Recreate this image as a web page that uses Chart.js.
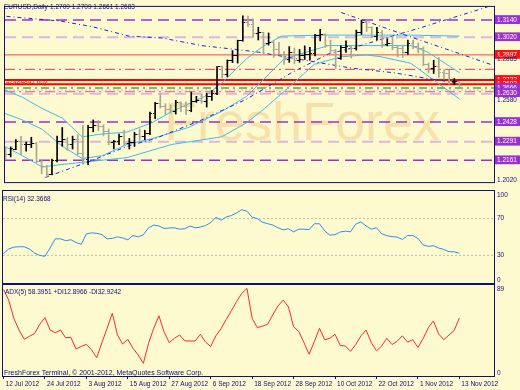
<!DOCTYPE html>
<html><head><meta charset="utf-8">
<script src="https://cdn.jsdelivr.net/npm/chart.js@4.4.1/dist/chart.umd.min.js"></script>
<style>
html,body{margin:0;padding:0;background:#fdfad0;width:520px;height:390px;overflow:hidden}
canvas{position:absolute;left:0;display:block}
</style></head><body>
<canvas id="cMain" width="520" height="189" style="top:0px"></canvas>
<canvas id="cRsi" width="520" height="95" style="top:189px"></canvas>
<canvas id="cAdx" width="520" height="106" style="top:284px"></canvas>
<script>
// ---------------- DATA ----------------
const tickLabels = ['12 Jul 2012','24 Jul 2012','3 Aug 2012','15 Aug 2012','27 Aug 2012','6 Sep 2012','18 Sep 2012','28 Sep 2012','10 Oct 2012','22 Oct 2012','1 Nov 2012','13 Nov 2012'];
const tickBars = [0,8,16,24,32,40,48,56,64,72,80,88];

const open = [1.2245,1.2200,1.2240,1.2290,1.2268,1.2272,1.2280,1.2150,1.2118,1.2064,
1.2162,1.2290,1.2307,1.2270,1.2305,1.2212,1.2166,1.2388,1.2401,1.2400,
1.2365,1.2285,1.2289,1.2330,1.2279,1.2285,1.2341,1.2330,1.2347,1.2488,
1.2561,1.2534,1.2513,1.2500,1.2562,1.2535,1.2510,1.2575,1.2582,1.2575,
1.2605,1.2628,1.2814,1.2760,1.2855,1.2895,1.2997,1.3124,1.3110,1.3047,
1.3050,1.2976,1.2981,1.2934,1.2902,1.2866,1.2916,1.2857,1.2895,1.2903,
1.2904,1.3035,1.3037,1.2966,1.2930,1.2874,1.2950,1.2953,1.2945,1.3052,
1.3122,1.3087,1.3023,1.3054,1.2972,1.2976,1.2947,1.2940,1.2911,1.2977,
1.2958,1.2942,1.2832,1.2800,1.2813,1.2775,1.2770,1.2710,1.2709];
const high = [1.2252,1.2255,1.2305,1.2328,1.2288,1.2322,1.2287,1.2165,1.2125,1.2170,
1.2330,1.2390,1.2320,1.2330,1.2340,1.2405,1.2405,1.2443,1.2440,1.2410,
1.2380,1.2300,1.2345,1.2372,1.2314,1.2357,1.2380,1.2370,1.2497,1.2565,
1.2624,1.2557,1.2550,1.2580,1.2570,1.2570,1.2637,1.2608,1.2620,1.2630,
1.2650,1.2815,1.2820,1.2862,1.2927,1.3000,1.3170,1.3168,1.3148,1.3090,
1.3055,1.3050,1.2990,1.2985,1.2920,1.2955,1.2945,1.2935,1.2960,1.2950,
1.3040,1.3075,1.3045,1.3000,1.2935,1.2960,1.2995,1.2960,1.3070,1.3140,
1.3135,1.3093,1.3090,1.3066,1.3010,1.3022,1.2960,1.2960,1.3000,1.3000,
1.2980,1.2952,1.2840,1.2860,1.2878,1.2792,1.2790,1.2732,1.2709];
const low = [1.2167,1.2185,1.2235,1.2200,1.2225,1.2250,1.2145,1.2067,1.2042,1.2060,
1.2150,1.2260,1.2230,1.2240,1.2200,1.2134,1.2130,1.2360,1.2367,1.2331,
1.2270,1.2240,1.2270,1.2265,1.2240,1.2258,1.2300,1.2305,1.2340,1.2452,
1.2525,1.2482,1.2490,1.2484,1.2500,1.2480,1.2500,1.2565,1.2560,1.2533,
1.2580,1.2620,1.2738,1.2745,1.2843,1.2840,1.2992,1.3095,1.3025,1.3001,
1.2900,1.2966,1.2880,1.2900,1.2830,1.2845,1.2835,1.2845,1.2865,1.2860,
1.2890,1.2995,1.2950,1.2907,1.2803,1.2865,1.2915,1.2876,1.2930,1.3040,
1.3060,1.3018,1.3000,1.2950,1.2960,1.2933,1.2883,1.2880,1.2900,1.2940,
1.2910,1.2820,1.2772,1.2767,1.2740,1.2727,1.2692,1.2690,1.2661];
const close = [1.2200,1.2245,1.2290,1.2268,1.2272,1.2280,1.2155,1.2118,1.2064,1.2162,
1.2290,1.2307,1.2270,1.2305,1.2212,1.2166,1.2388,1.2401,1.2400,1.2365,
1.2285,1.2289,1.2330,1.2279,1.2285,1.2341,1.2330,1.2347,1.2488,1.2561,
1.2534,1.2513,1.2500,1.2562,1.2535,1.2510,1.2575,1.2582,1.2575,1.2605,
1.2628,1.2814,1.2760,1.2855,1.2895,1.2997,1.3124,1.3110,1.3047,1.3050,
1.2976,1.2981,1.2934,1.2902,1.2866,1.2916,1.2857,1.2895,1.2903,1.2904,
1.3035,1.3037,1.2966,1.2930,1.2874,1.2950,1.2953,1.2945,1.3052,1.3122,
1.3087,1.3023,1.3054,1.2972,1.2976,1.2947,1.2940,1.2911,1.2977,1.2958,
1.2942,1.2832,1.2800,1.2813,1.2775,1.2770,1.2710,1.2712,1.2683];

const rsi = [32,37,39,39.4,39.4,37,32.5,30,29,38,
48,48,46,47,44,42,53.4,54.5,54,52.5,
48,48.5,50.2,49,47,51.6,50.2,52.5,60,63,
62,59.3,59.8,60,58.5,59,61.9,60,60.8,62.5,
65.5,71.4,68.2,71.8,73.3,76.2,79.7,78,71.5,70,
66,64.5,63,60,57.8,59,55.6,58.5,58.5,58,
64.4,64.4,56.6,52,52.5,55.5,56.3,55.6,64,66.4,
62,58.5,60,53.6,51.5,50.3,50,47.2,51.6,51.6,
48.5,41.5,39.8,40.5,38,36.5,34,33.9,32.4];
const rsiLevels = [70,30];
const rsiAxis = [100,70,30,0];

const adx = [88,77,58,46,36.4,39.5,42.5,52,58.8,46,
43.2,46,38,38.5,26.4,29,31.2,25.4,17.4,33,
47.8,63.3,40.9,31.5,36.4,27.1,20.2,11.6,32.3,47.8,
60.8,44,32.9,37.5,40.9,34.7,34.7,34.7,41.6,33.5,
29,40,47.5,57,66,75.5,84,89,58,48.5,
50,52,62,71,77,70,49.5,44.5,33,21,
34,47.8,36,37.5,41.6,30,29.5,24,31,40,
46,33,24.5,29.5,37.5,31,34.5,40,33.5,36,
28,37,48.4,55.4,42,36,40.9,45.5,58.4];
const adxAxis = [89,0];

// horizontal levels on the price chart
const levelPrices = [1.3140,1.3020,1.2897,1.2796,1.2722,1.2692,1.2666,1.2652,1.2640,1.2625,1.2428,1.2291,1.2161];
// right-axis labels
const boxedPrices = [1.3140,1.3020,1.2897,1.2722,1.2692,1.2666,1.2630,1.2428,1.2291,1.2161];
const plainPrices = [1.2865,1.2580,1.2020];

// indicator curves: [bar index, price]
const bbUpper = [[-0.19,1.2654],[3.28,1.2601],[7.14,1.2522],[11.0,1.2456],[14.86,1.2325],[18.73,1.2345],[23.55,1.2358],[28.38,1.2423],[32.24,1.2502],[38.61,1.2607],[41.89,1.2700],[46.72,1.2870],[49.61,1.2949],[53.47,1.3028],[61.2,1.3035],[69.9,1.3035],[78.6,1.3035],[88.0,1.3028]];
const bbMiddle = [[-0.19,1.2489],[3.28,1.2443],[7.14,1.2377],[11.0,1.2259],[14.86,1.2174],[18.73,1.2193],[23.55,1.2272],[28.38,1.2312],[35.52,1.2391],[41.89,1.2502],[46.72,1.2607],[54.05,1.2870],[62.55,1.2962],[69.88,1.2962],[78.57,1.2962],[81.85,1.2916],[88.03,1.2772]];
const bbLower = [[-0.19,1.2259],[3.28,1.2193],[7.14,1.2114],[10.04,1.2128],[14.86,1.2147],[23.55,1.2180],[32.24,1.2272],[41.89,1.2325],[46.72,1.2423],[50.19,1.2522],[55.4,1.2686],[59.85,1.2831],[65.06,1.2884],[69.88,1.2897],[72.78,1.2884],[78.57,1.2838],[84.36,1.2686],[88.03,1.2588]];
const trendA = [[0.19,1.3166],[10.62,1.3133],[16.8,1.3094],[23.94,1.3028],[30.31,1.3015],[38.03,1.2962],[44.4,1.2936],[49.03,1.2916],[57.34,1.2864],[66.99,1.2805],[75.29,1.2772],[81.85,1.2732],[87.64,1.2700]];
const trendB = [[65.06,1.3193],[70.85,1.3120],[78.57,1.3022],[88.22,1.2903],[94.0,1.2831]];
const trendC = [[7.72,1.2042],[16.8,1.2160],[23.55,1.2259],[28.96,1.2312],[38.03,1.2443],[46.72,1.2588],[55.41,1.2772],[62.55,1.2903],[67.57,1.2949],[80.5,1.3087],[93.44,1.3232]];

// ---------------- STYLE ----------------
const FONT = "'Liberation Sans', Arial, sans-serif";
const NAVY = '#10107a';
const PURPLE = '#9b30d0', THISTLE = '#dab6e0', RED = '#ff1010';
const X_MIN = -0.1, X_MAX = 94.69;
const levelStyle = [
  {c:PURPLE,w:1.5,d:[11,6]},{c:THISTLE,w:2,d:[11,6]},{c:'#f04848',w:1,d:[]},
  {c:'#ff3060',w:1,d:[10,4,2,4]},{c:'#ff0000',w:2,d:[]},{c:'#ff0000',w:2,d:[]},
  {c:'#30c030',w:1.5,d:[8,4,2,4]},{c:'#ffa0d0',w:1,d:[2,2]},{c:'#ff5070',w:1,d:[10,4,2,4]},
  {c:THISTLE,w:2,d:[11,6]},{c:PURPLE,w:1.5,d:[11,6]},{c:THISTLE,w:2,d:[11,6]},{c:PURPLE,w:1.5,d:[11,6]}
];
const boxColors = [PURPLE,PURPLE,RED,RED,RED,PURPLE,PURPLE,PURPLE,PURPLE,PURPLE];
const upC = '#000000', dnC = '#a8a892';

const mainAxisValues = boxedPrices.concat(plainPrices).sort((a,b)=>b-a);
function boxFor(v){ const k = boxedPrices.findIndex(p=>Math.abs(p-v)<1e-7); return k<0?null:boxColors[k]; }
function tickCanvas(left,color){const c=document.createElement('canvas');c.width=5;c.height=1;const g=c.getContext('2d');g.fillStyle=color;g.fillRect(left?0:3,0,2,1);return c;}
const tOU=tickCanvas(true,upC), tOD=tickCanvas(true,dnC), tCU=tickCanvas(false,upC), tCD=tickCanvas(false,dnC);
const isUp = i => close[i] >= open[i];
const idx = close.map((_,i)=>i);
const lineDs = (pts,color,width,dash,order) => ({type:'line',data:pts.map(p=>({x:p[0],y:p[1]})),borderColor:color,borderWidth:width,borderDash:dash,pointRadius:0,fill:false,tension:0,order});

function framePlugin(id, under, over){
  return {id,
    beforeDatasetsDraw(chart){ if(under) under(chart); },
    afterDatasetsDraw(chart){
      const {ctx, chartArea:a} = chart;
      ctx.save(); ctx.strokeStyle = NAVY; ctx.lineWidth = 1;
      ctx.strokeRect(a.left-0.5, a.top-0.5, a.right-a.left+1, a.bottom-a.top+1);
      ctx.restore();
      if(over) over(chart);
    }};
}
function txt(ctx, s, x, y, color, size){
  ctx.save(); ctx.font = size+'px '+FONT; ctx.fillStyle = color; ctx.textBaseline='middle'; ctx.textAlign='left';
  ctx.fillText(s, x, y); ctx.restore();
}
function axisLabels(chart, vals){
  const s = chart.scales.y, a = chart.chartArea;
  vals.forEach(v=>{
    let y = s.getPixelForValue(v);
    y = Math.min(Math.max(y, a.top+4), a.bottom-3);
    txt(chart.ctx, String(v), a.right+3, y, NAVY, 6.5);
  });
}
const baseOpts = (pad) => ({responsive:false, animation:false, events:[],
  layout:{padding:pad}, plugins:{legend:{display:false},tooltip:{enabled:false}}});

// ---------------- MAIN PRICE CHART ----------------
const mainDatasets = [
  {type:'bar', data: idx.map(i=>({x:i,y:[low[i],high[i]]})), barThickness:1, borderWidth:0,
   backgroundColor: c => isUp(c.dataIndex)?upC:dnC, order:1, grouped:false},
  {type:'scatter', data: idx.map(i=>({x:i,y:open[i]})), pointStyle: c => isUp(c.dataIndex)?tOU:tOD, pointRadius:2, order:1},
  {type:'scatter', data: idx.map(i=>({x:i,y:close[i]})), pointStyle: c => isUp(c.dataIndex)?tCU:tCD, pointRadius:2, order:1},
  lineDs(trendA,'#1428e0',1,[4,3,1,3],2),
  lineDs(trendB,'#1428e0',1,[4,3,1,3],2),
  lineDs(trendC,'#1428e0',1,[4,3,1,3],2),
  lineDs(bbUpper,'#3cbcf0',1,[],3),
  lineDs(bbMiddle,'#3cbcf0',1,[],3),
  lineDs(bbLower,'#3cbcf0',1,[],3),
];
levelPrices.forEach((p,k)=>{
  const st = levelStyle[k];
  mainDatasets.push(lineDs([[X_MIN,p],[X_MAX,p]], st.c, st.w, st.d, 4));
});

new Chart(document.getElementById('cMain'), {
  type:'bar',
  data:{datasets: mainDatasets},
  options: Object.assign(baseOpts({left:3,top:2,right:0,bottom:1}), {
    scales:{
      x:{type:'linear',min:X_MIN,max:X_MAX,offset:false,display:false},
      y:{type:'linear',position:'right',min:1.2009,max:1.3232,
        afterFit(s){s.width=26;},
        afterBuildTicks(s){s.ticks = mainAxisValues.map(v=>({value:v}));},
        grid:{display:false,drawTicks:false}, border:{display:false},
        ticks:{autoSkip:false,padding:3,font:{family:FONT,size:6.5},
          callback:v=>Number(v).toFixed(4),
          color:c=>(c.tick && boxFor(c.tick.value))?'#ffffff':NAVY,
          showLabelBackdrop:c=>!!(c.tick && boxFor(c.tick.value)),
          backdropColor:c=>(c.tick && boxFor(c.tick.value))||'rgba(0,0,0,0)',
          backdropPadding:{top:1,bottom:0,left:2,right:4}}
      }
    }
  }),
  plugins:[framePlugin('fMain',
    chart=>{ const ctx=chart.ctx; ctx.save(); ctx.font='54px '+FONT; ctx.fillStyle='rgba(240,188,120,0.42)';
      ctx.textBaseline='alphabetic'; ctx.fillText('FreshForex',164,140); ctx.restore(); },
    chart=>{ const ctx=chart.ctx, n=close.length-1;
      txt(ctx,'EURUSD,Daily',4,7,NAVY,6.5);
      txt(ctx,[open[n],high[n],low[n],close[n]].map(v=>v.toFixed(4)).join(' '),50,7,NAVY,6.5);
      txt(ctx,'#2484841 buy',6,82,'#c81818',6.5);
    })]
});

// ---------------- RSI ----------------
const rsiDatasets = [
  {data: rsi.map((v,i)=>({x:i,y:v})), borderColor:'#2a8ff0', borderWidth:1, pointRadius:0, tension:0, order:1}
];
rsiLevels.forEach(l=>rsiDatasets.push(lineDs([[X_MIN,l],[X_MAX,l]],'#bdbdb0',1,[2,2],2)));
new Chart(document.getElementById('cRsi'), {
  type:'line',
  data:{datasets: rsiDatasets},
  options: Object.assign(baseOpts({left:3,top:2,right:0,bottom:1}), {
    scales:{
      x:{type:'linear',min:X_MIN,max:X_MAX,display:false},
      y:{type:'linear',position:'right',min:0,max:100,afterFit(s){s.width=26;},
        ticks:{display:false},grid:{display:false,drawTicks:false},border:{display:false}}
    }
  }),
  plugins:[framePlugin('fRsi', null, chart=>{
    txt(chart.ctx,'RSI(14) 32.3668',3,10,NAVY,6.5);
    axisLabels(chart, rsiAxis);
  })]
});

// ---------------- ADX ----------------
new Chart(document.getElementById('cAdx'), {
  type:'line',
  data:{datasets:[
    {data: adx.map((v,i)=>({x:i,y:v})), borderColor:'#ff2828', borderWidth:1, pointRadius:0, tension:0}
  ]},
  options: Object.assign(baseOpts({left:3,top:1,right:0,bottom:0}), {
    scales:{
      x:{type:'linear',min:X_MIN,max:X_MAX,position:'bottom',
        afterFit(s){s.height=14;},
        afterBuildTicks(s){s.ticks = tickBars.map(v=>({value:v}));},
        grid:{display:true,drawOnChartArea:false,drawTicks:true,tickLength:3,color:NAVY,tickColor:NAVY},
        border:{display:false},
        ticks:{autoSkip:false,maxRotation:0,minRotation:0,align:'start',labelOffset:2,padding:1,
          font:{family:FONT,size:6.5},color:NAVY,callback:(v,i)=>tickLabels[i]}},
      y:{type:'linear',position:'right',min:-1.55,max:92.6,afterFit(s){s.width=26;},
        ticks:{display:false},grid:{display:false,drawTicks:false},border:{display:false}}
    }
  }),
  plugins:[framePlugin('fAdx', null, chart=>{
    txt(chart.ctx,'ADX(5) 58.3951 +DI12.8966 -DI32.9242',5,8,NAVY,6.5);
    txt(chart.ctx,'FreshForex Terminal, \u00a9 2001-2012, MetaQuotes Software Corp.',4,89,NAVY,7);
    axisLabels(chart, adxAxis);
  })]
});
</script>
</body></html>
